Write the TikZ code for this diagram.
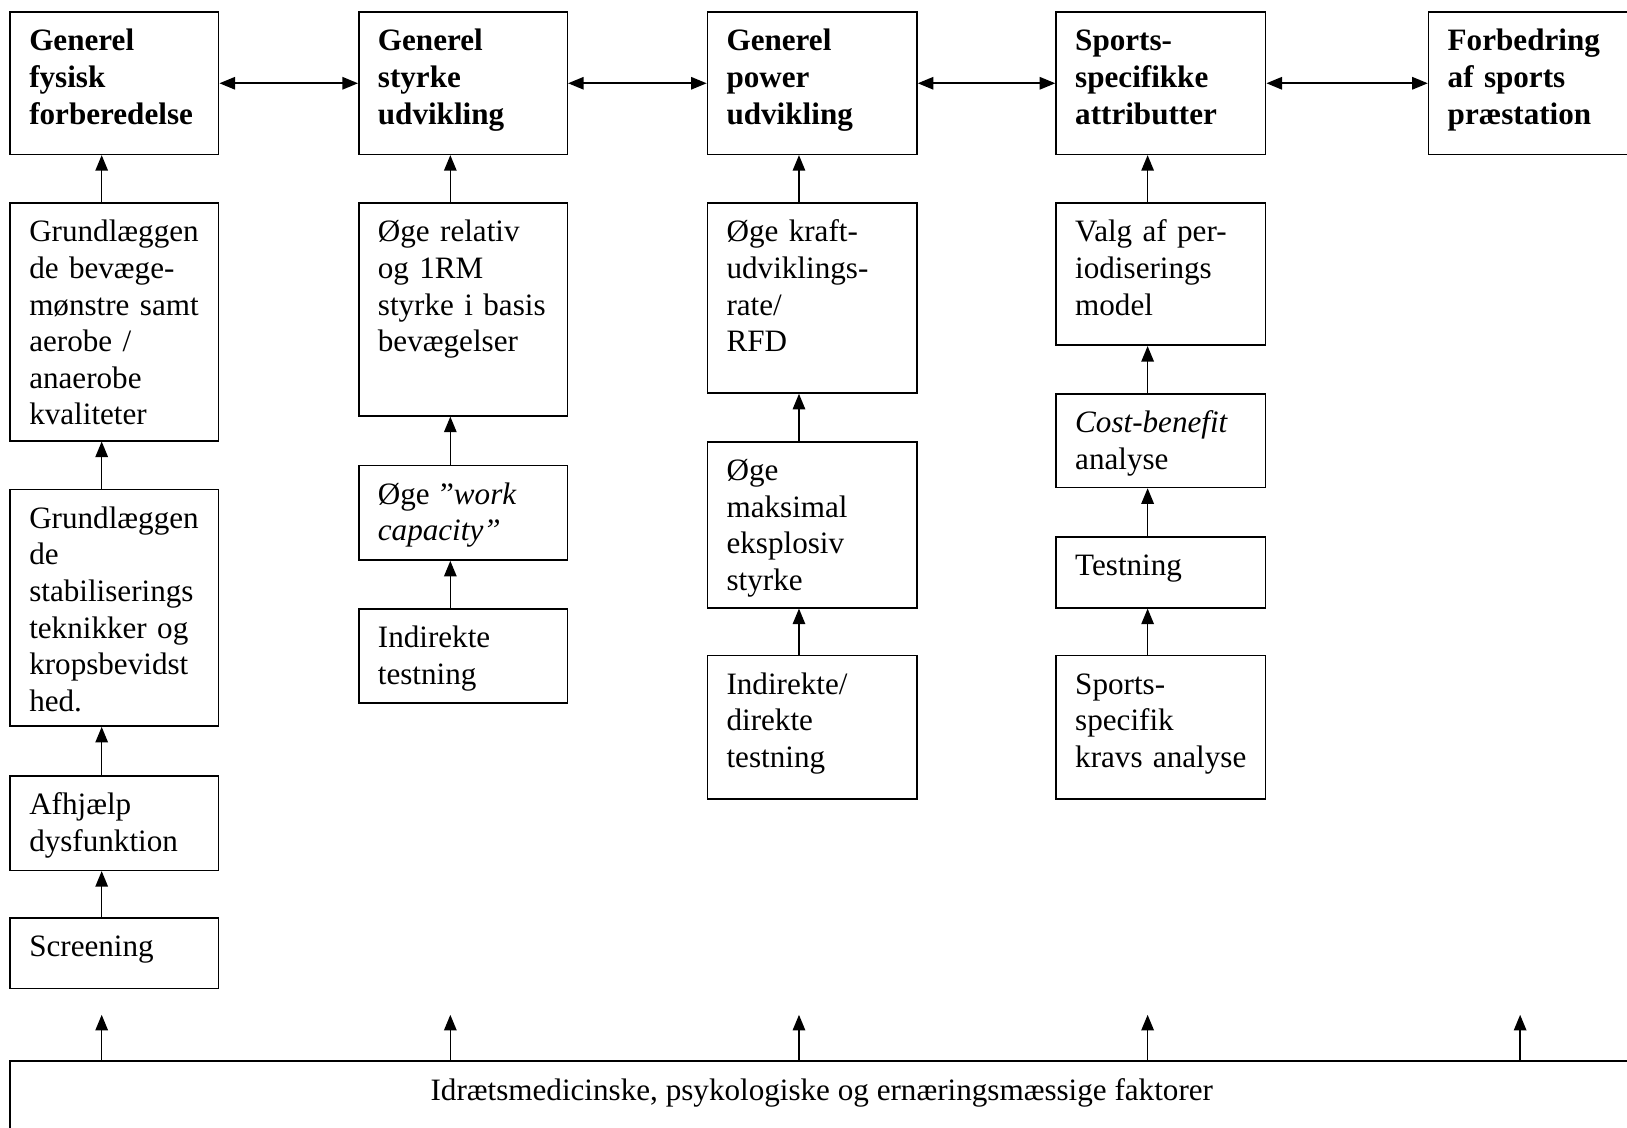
\documentclass[tikz,border=0pt]{standalone}
\usepackage{fontspec}
\setmainfont{Liberation Serif}
\usetikzlibrary{arrows.meta}
\tikzset{
  frame/.style={draw, line width=1.5pt, anchor=north west, inner sep=0pt},
  txt/.style={anchor=base west, inner sep=0pt, text width=195pt, align=left,
    font=\fontsize{30pt}{35.3pt}\selectfont, xshift=19pt, yshift=-38pt},
  btxt/.style={txt, font=\fontsize{30pt}{35.3pt}\selectfont\bfseries},
  arr/.style={line width=1.5pt, -{Triangle[length=15pt,width=12pt]}},
  darr/.style={line width=1.5pt, {Triangle[length=15pt,width=12pt]}-{Triangle[length=15pt,width=12pt]}}
}
\newcommand\bx[6]{%
  \node[frame, minimum width=#4pt, minimum height=#5pt] (#1) at (#2,#3) {};
  \node[txt] (#1t) at (#1.north west) {#6};}
\newcommand\bbx[6]{%
  \node[frame, minimum width=#4pt, minimum height=#5pt] (#1) at (#2,#3) {};
  \node[btxt] (#1t) at (#1.north west) {#6};}
\begin{document}
\begin{tikzpicture}[x=1pt,y=-1pt]
\useasboundingbox (0,0) rectangle (1568,1087);
\clip (0,0) rectangle (1568,1087);
% top row
\bbx{a0}{9}{11}{201}{137}{Generel\\fysisk\\forberedelse}
\bbx{b0}{345}{11}{201}{137}{Generel\\styrke\\udvikling}
\bbx{c0}{681}{11}{202}{137}{Generel\\power\\udvikling}
\bbx{d0}{1017}{11}{202}{137}{Sports-\\specifikke\\attributter}
\bbx{e0}{1376}{11}{260}{137}{Forbedring\\af sports\\præstation}
% column 1
\bx{a1}{9}{195}{201}{229}{Grundlæggen\\de bevæge-\\mønstre samt\\aerobe /\\anaerobe\\kvaliteter}
\bx{a2}{9}{471}{201}{228}{Grundlæggen\\de\\stabiliserings\\teknikker og\\kropsbevidst\\hed.}
\bx{a3}{9}{747}{201}{91}{Afhjælp\\dysfunktion}
\bx{a4}{9}{884}{201}{68}{Screening}
% column 2
\bx{b1}{345}{195}{201}{205}{Øge relativ\\og 1RM\\styrke i basis\\bevægelser}
\bx{b2}{345}{448}{201}{91}{Øge ”\textit{work}\\\textit{capacity”}}
\bx{b3}{345}{586}{201}{91}{Indirekte\\testning}
% column 3
\bx{c1}{681}{195}{202}{183}{Øge kraft-\\udviklings-\\rate/\\RFD}
\bx{c2}{681}{425}{202}{160}{Øge\\maksimal\\eksplosiv\\styrke}
\bx{c3}{681}{631}{202}{138}{Indirekte/\\direkte\\testning}
% column 4
\bx{d1}{1017}{195}{202}{137}{Valg af per-\\iodiserings\\model}
\bx{d2}{1017}{379}{202}{90}{\textit{Cost-benefit}\\analyse}
\bx{d3}{1017}{517}{202}{68}{Testning}
\bx{d4}{1017}{631}{202}{138}{Sports-\\specifik\\kravs analyse}
% bottom box
\node[frame, minimum width=1640pt, minimum height=120pt] (base) at (9,1022) {};
\node[anchor=base, inner sep=0pt, font=\fontsize{30pt}{35.3pt}\selectfont] (baset) at (792,1061)
  {Idrætsmedicinske, psykologiske og ernæringsmæssige faktorer};
% horizontal double arrows
\draw[darr] (a0.east) -- (b0.west);
\draw[darr] (b0.east) -- (c0.west);
\draw[darr] (c0.east) -- (d0.west);
\draw[darr] (d0.east) -- (e0.west);
% vertical arrows
\coordinate (xa) at (98,0);
\coordinate (xb) at (434,0);
\coordinate (xc) at (770,0);
\coordinate (xd) at (1106,0);
\coordinate (xe) at (1465,0);
\foreach \lo/\hi/\c in {a1/a0/xa,a2/a1/xa,a3/a2/xa,a4/a3/xa,
                        b1/b0/xb,b2/b1/xb,b3/b2/xb,
                        c1/c0/xc,c2/c1/xc,c3/c2/xc,
                        d1/d0/xd,d2/d1/xd,d3/d2/xd,d4/d3/xd}
  \draw[arr] (\lo.north -| \c) -- (\hi.south -| \c);
% bottom arrows
\foreach \c/\n in {xa/1,xb/2,xc/3,xd/4,xe/5}{
  \coordinate (t\n) at ([yshift=44pt]base.north -| \c);
  \draw[arr] (base.north -| \c) -- (t\n);
}
\end{tikzpicture}
\end{document}
